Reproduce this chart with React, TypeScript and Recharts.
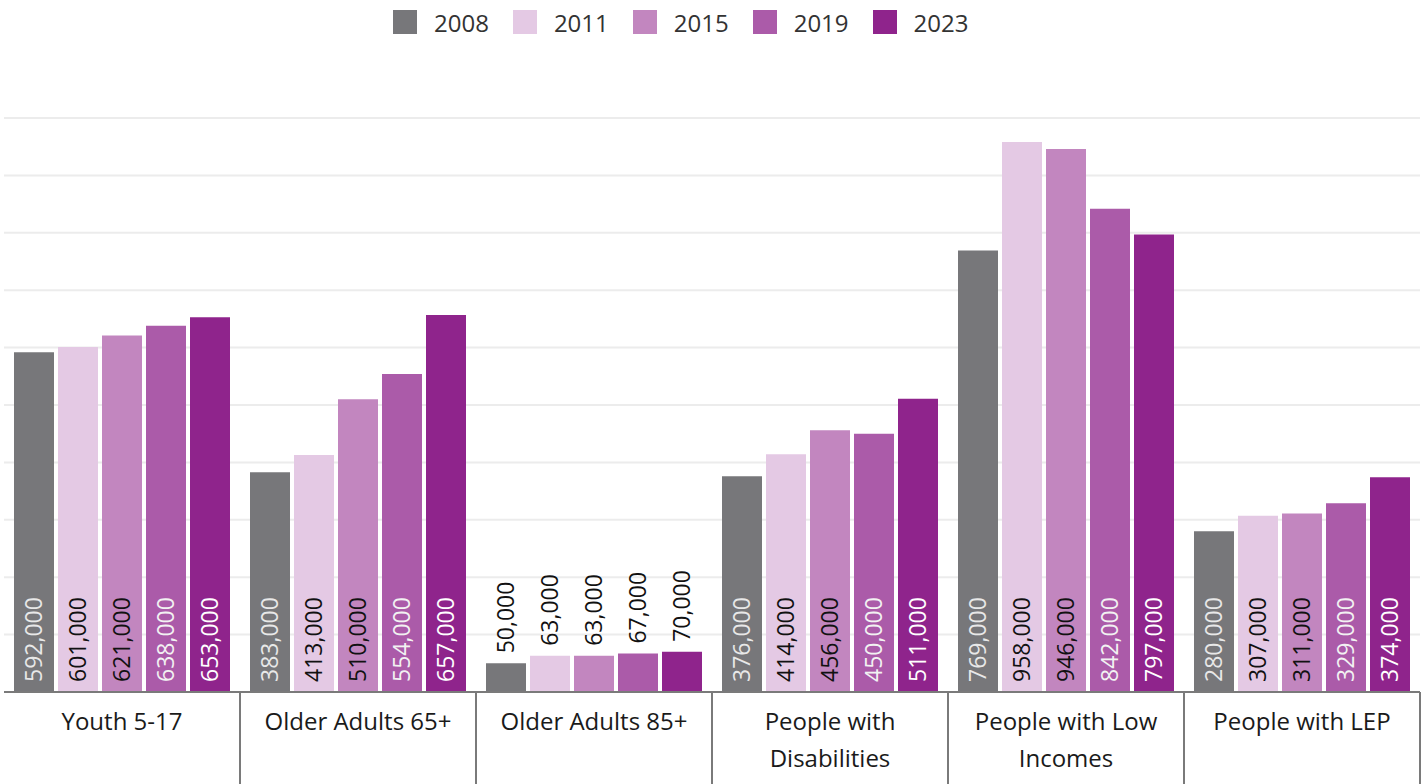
import React from "react";
import {
  BarChart,
  Bar,
  XAxis,
  YAxis,
  CartesianGrid,
  Legend,
  LabelList,
} from "recharts";

const categories = [
  "Youth 5-17",
  "Older Adults 65+",
  "Older Adults 85+",
  "People with Disabilities",
  "People with Low Incomes",
  "People with LEP",
];

const years = ["2008", "2011", "2015", "2019", "2023"];

const v2008 = [592000, 383000, 50000, 376000, 769000, 280000];
const v2011 = [601000, 413000, 63000, 414000, 958000, 307000];
const v2015 = [621000, 510000, 63000, 456000, 946000, 311000];
const v2019 = [638000, 554000, 67000, 450000, 842000, 329000];
const v2023 = [653000, 657000, 70000, 511000, 797000, 374000];

const yTicks = [0, 100000, 200000, 300000, 400000, 500000, 600000, 700000, 800000, 900000, 1000000];

const colors = ["#77777a", "#e4c9e4", "#c286bf", "#ab5ba9", "#8f248c"];
const labelColors = ["#e8e8e8", "#111111", "#111111", "#f2f2f2", "#ffffff"];

const series = [v2008, v2011, v2015, v2019, v2023];

const data = categories.map((name, i) => {
  const row: any = { name };
  years.forEach((y, k) => {
    row[y] = series[k][i];
  });
  return row;
});

const W = 1424;
const H = 784;
const M = { top: 78, right: 4, bottom: 0, left: 4 };
const FONT = "'Open Sans', sans-serif";
const bandW = (W - M.left - M.right) / categories.length;

function wrap(label: string, max = 16) {
  const words = label.split(" ");
  const lines: string[] = [];
  let cur = "";
  words.forEach((w) => {
    const next = cur ? cur + " " + w : w;
    if (next.length > max && cur) {
      lines.push(cur);
      cur = w;
    } else {
      cur = next;
    }
  });
  if (cur) lines.push(cur);
  return lines;
}

const CategoryTick = (props: any) => {
  const { x, y, payload } = props;
  const lines = wrap(payload.value);
  return (
    <g>
      <line x1={x + bandW / 2} x2={x + bandW / 2} y1={y} y2={H} stroke="#7a7a7a" strokeWidth={2} />
      <text x={x} y={y + 38} textAnchor="middle" fill="#1a1a1a" fontSize={24} fontFamily={FONT}>
        {lines.map((l, i) => (
          <tspan key={i} x={x} dy={i === 0 ? 0 : 37}>
            {l}
          </tspan>
        ))}
      </text>
    </g>
  );
};

const makeLabel = (k: number) => (props: any) => {
  const { x, y, width, height, value } = props;
  const cx = x + width / 2;
  const inside = height > 110;
  const y0 = inside ? y + height - 10 : y - 10;
  return (
    <text
      transform={`translate(${cx},${y0}) rotate(-90)`}
      dy="0.36em"
      textAnchor="start"
      fontSize={23}
      fontFamily={FONT}
      fill={inside ? labelColors[k] : "#111111"}
    >
      {Number(value).toLocaleString("en-US")}
    </text>
  );
};

const renderLegend = () => (
  <div style={{ display: "flex", alignItems: "center", paddingLeft: 393, height: 40 }}>
    {years.map((yr, i) => (
      <div key={yr} style={{ display: "flex", alignItems: "center", marginRight: 24 }}>
        <span
          style={{ width: 24, height: 24, background: colors[i], display: "inline-block", marginRight: 17 }}
        />
        <span style={{ fontSize: 24, color: "#333", fontFamily: FONT }}>{yr}</span>
      </div>
    ))}
  </div>
);

export default function App() {
  return (
    <div style={{ position: "absolute", left: 0, top: 0, width: W, height: H, background: "#fff" }}>
      <BarChart width={W} height={H} data={data} margin={M} barCategoryGap={10} barGap={4}>
        <CartesianGrid vertical={false} stroke="#ececec" strokeWidth={2} />
        <Legend
          verticalAlign="top"
          content={renderLegend}
          wrapperStyle={{ top: 2, left: 0, width: W, height: 40 }}
        />
        <YAxis hide domain={[0, 1000000]} ticks={yTicks} />
        <XAxis
          dataKey="name"
          height={92}
          tickLine={false}
          tickSize={0}
          tickMargin={0}
          interval={0}
          axisLine={{ stroke: "#7a7a7a", strokeWidth: 2 }}
          tick={<CategoryTick />}
        />
        {years.map((yr, k) => (
          <Bar key={yr} dataKey={yr} fill={colors[k]} isAnimationActive={false}>
            <LabelList dataKey={yr} content={makeLabel(k)} />
          </Bar>
        ))}
      </BarChart>
    </div>
  );
}
